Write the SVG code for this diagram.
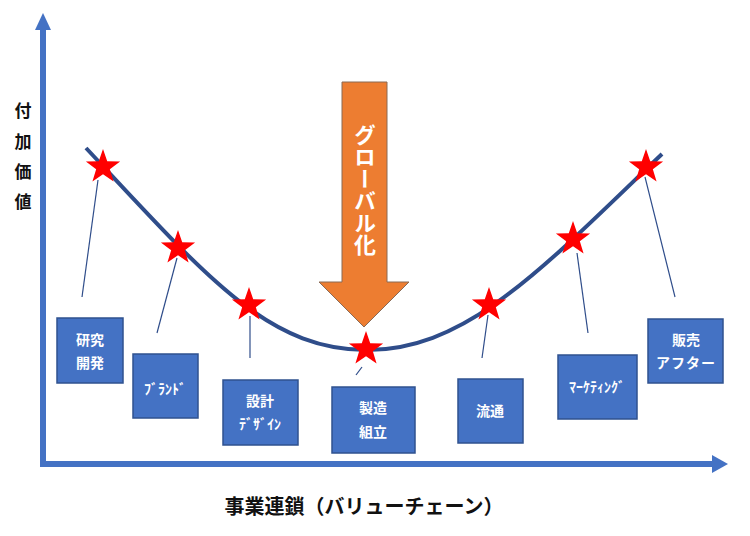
<svg xmlns="http://www.w3.org/2000/svg" width="750" height="536" viewBox="0 0 750 536">
<defs>
<style>
.box{fill:#4472C4;stroke:#2F528F;stroke-width:1.5}
.bt{font-family:"Noto Sans CJK JP","Noto Sans",sans-serif;font-weight:bold;font-size:14px;fill:#fff;text-anchor:middle}
.ax{fill:none;stroke:#4472C4;stroke-width:6}
.axh{fill:#4472C4}
.lead{stroke:#2F4D8A;stroke-width:1.2;fill:none}
.lbl{font-family:"Noto Sans CJK JP","Noto Sans",sans-serif;font-weight:bold;fill:#111}
.star{fill:#FF0000}
</style>
<path id="star" d="M0,-18 L4.23,-5.82 L17.12,-5.56 L6.85,2.22 L10.58,14.56 L0,7.2 L-10.58,14.56 L-6.85,2.22 L-17.12,-5.56 L-4.23,-5.82 Z"/>
</defs>
<rect width="750" height="536" fill="#fff"/>
<g id="axes">
<path class="ax" d="M43,28 L43,464 L714,464"/>
<polygon class="axh" points="43,13 35,30 51,30"/>
<polygon class="axh" points="728,464 712,455 712,473"/>
</g>
<g id="y-label" class="lbl" font-size="17" text-anchor="middle">
<text x="23" y="117">付</text>
<text x="23" y="148">加</text>
<text x="23" y="178">価</text>
<text x="23" y="208">値</text>
</g>
<text id="x-label" class="lbl" x="364" y="514" font-size="20" text-anchor="middle">事業連鎖（バリューチェーン）</text>
<g id="curve">
<path d="M86,148 C206,276 267,350 367,350 C467,350 542,269 662,154" fill="none" stroke="#2F4D8A" stroke-width="4"/>
</g>
<g id="connectors">
<line class="lead" x1="98" y1="180" x2="82" y2="297"/>
<line class="lead" x1="177" y1="258" x2="157" y2="333"/>
<line class="lead" x1="250" y1="316" x2="250" y2="358"/>
<line class="lead" x1="362" y1="367" x2="356" y2="375"/>
<line class="lead" x1="488" y1="315" x2="482" y2="358"/>
<line class="lead" x1="577" y1="253" x2="588" y2="333"/>
<line class="lead" x1="645" y1="177" x2="675" y2="297"/>
</g>
<g id="globalization">
<polygon points="342,82 387,82 387,282 409,282 364,327 319,282 342,282" fill="#ED7D31" stroke="#8A6A55" stroke-width="1"/>
<text x="365" y="124" font-family="Noto Sans CJK JP,sans-serif" font-weight="bold" font-size="22" fill="#fff" writing-mode="tb" style="writing-mode:vertical-rl">グローバル化</text>
</g>
<g id="stars" class="star">
<use href="#star" x="103" y="167"/>
<use href="#star" x="178" y="248"/>
<use href="#star" x="249" y="305"/>
<use href="#star" x="366" y="349"/>
<use href="#star" x="489" y="305"/>
<use href="#star" x="573" y="239"/>
<use href="#star" x="646" y="167"/>
</g>
<g id="node-rd">
<rect class="box" x="57" y="318" width="66" height="65"/>
<text class="bt" x="90" y="345">研究</text>
<text class="bt" x="90" y="368">開発</text>
</g>
<g id="node-brand">
<rect class="box" x="133" y="354" width="65" height="64"/>
<text class="bt" x="165" y="394" font-size="13">ﾌﾞﾗﾝﾄﾞ</text>
</g>
<g id="node-design">
<rect class="box" x="223" y="380" width="75" height="65"/>
<text class="bt" x="260" y="406">設計</text>
<text class="bt" x="260" y="429" font-size="13">ﾃﾞｻﾞｲﾝ</text>
</g>
<g id="node-mfg">
<rect class="box" x="332" y="387" width="83" height="66"/>
<text class="bt" x="373" y="413">製造</text>
<text class="bt" x="373" y="437">組立</text>
</g>
<g id="node-dist">
<rect class="box" x="458" y="379" width="65" height="64"/>
<text class="bt" x="490" y="416">流通</text>
</g>
<g id="node-mkt">
<rect class="box" x="558" y="355" width="79" height="64"/>
<text class="bt" x="597" y="392" font-size="13">ﾏｰｹﾃｨﾝｸﾞ</text>
</g>
<g id="node-sales">
<rect class="box" x="648" y="319" width="75" height="64"/>
<text class="bt" x="686" y="345">販売</text>
<text class="bt" x="686" y="368" letter-spacing="1">アフター</text>
</g>
</svg>
